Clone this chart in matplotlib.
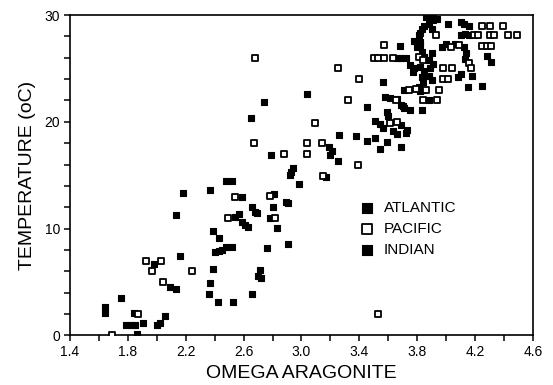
import matplotlib
matplotlib.use("Agg")
import matplotlib.pyplot as plt
from matplotlib.ticker import MultipleLocator

plt.rcParams['font.family'] = ['Liberation Sans', 'DejaVu Sans']

# ---- data (omega aragonite, temperature in oC) ----
atlantic_omega = [1.64, 1.64, 1.75, 1.79, 1.82, 1.85, 1.84, 1.86, 1.905, 1.98, 2.00, 2.02, 2.06,
                  2.09, 2.13, 2.13, 2.16, 2.18, 2.37, 2.39, 2.43, 2.40, 2.43, 2.45, 2.48, 2.52,
                  2.39, 2.37, 2.36, 2.42, 2.53, 2.66, 2.54, 2.57, 2.59, 2.61, 2.63, 2.66, 2.68,
                  2.69, 2.48, 2.52, 2.59, 2.76, 2.71, 2.70, 2.72, 2.81, 2.80, 2.89, 2.91, 2.78,
                  2.83, 2.91, 2.93, 2.92, 2.98, 2.94, 2.79, 3.04, 2.74, 2.65, 3.19, 3.21, 3.20,
                  3.25, 3.17, 3.26, 3.38, 3.45, 3.51, 3.54, 3.59, 3.69]
atlantic_temp = [2.65, 2.1, 3.5, 1.0, 1.0, 1.0, 2.1, 0.15, 1.2, 6.7, 1.0, 1.2, 1.8,
                 4.55, 4.35, 11.3, 7.4, 13.35, 13.6, 9.8, 9.1, 7.8, 7.9, 8.0, 8.25, 8.3,
                 6.2, 4.9, 3.85, 3.15, 3.15, 3.85, 11.1, 11.4, 10.6, 10.3, 10.15, 12.0, 11.6,
                 11.45, 14.5, 14.5, 13.0, 8.2, 6.1, 5.6, 5.4, 13.2, 12.0, 12.5, 12.4, 11.0,
                 10.05, 8.55, 15.3, 15.0, 14.2, 15.7, 16.9, 22.6, 21.9, 20.35, 17.6, 17.3, 16.9,
                 16.3, 14.8, 18.8, 18.7, 18.2, 18.5, 17.5, 18.1, 17.6]

indian_omega = [3.45, 3.58, 3.59, 3.60, 3.51, 3.54, 3.56, 3.63, 3.66, 3.69, 3.72, 3.73,
                3.66, 3.69, 3.71, 3.75, 3.56, 3.68, 3.66, 3.69, 3.72, 3.75, 3.78, 3.82, 3.82,
                3.83, 3.86, 3.89, 3.91, 3.94, 3.80, 3.82, 3.81, 3.78, 3.85, 3.88, 3.90, 3.91,
                4.01, 4.10, 3.97, 4.00, 4.06, 3.83, 3.85, 3.88, 3.91, 3.90, 3.77, 3.82, 3.85,
                3.89, 3.83, 3.84, 3.88, 3.90, 3.81, 3.82, 3.71, 3.83, 4.08, 3.61, 3.70, 3.88,
                3.83, 4.12, 4.16, 4.10, 4.13, 4.16, 4.12, 4.14, 4.13, 4.28, 4.31, 4.10, 4.18,
                4.15, 4.25]
indian_temp = [21.4, 22.3, 20.9, 20.5, 20.1, 19.8, 19.4, 19.1, 18.9, 19.7, 18.95, 19.2,
               22.1, 21.6, 21.3, 21.1, 23.7, 27.1, 26.0, 26.0, 26.0, 25.3, 25.0, 27.2, 28.3,
               28.7, 29.8, 30.0, 29.5, 29.6, 27.0, 27.5, 28.1, 27.6, 29.0, 29.2, 28.7, 29.95,
               29.2, 29.3, 27.0, 27.3, 27.3, 26.5, 26.1, 25.75, 25.4, 26.4, 24.65, 25.1, 24.8,
               25.0, 24.2, 23.7, 24.3, 23.9, 23.25, 22.9, 23.0, 23.0, 24.2, 22.2, 21.45, 22.0,
               21.1, 29.2, 29.0, 28.1, 28.2, 28.1, 27.0, 26.4, 25.9, 26.2, 25.6, 24.5, 24.3,
               23.25, 23.4]

pacific_omega = [1.69, 1.87, 1.925, 1.97, 2.03, 2.04, 2.24, 2.49, 2.54, 2.78, 2.82, 2.68,
                 2.67, 3.04, 2.88, 3.04, 3.32, 3.09, 3.14, 3.39, 3.15, 3.25, 3.40, 3.53,
                 3.61, 3.66, 3.74, 3.79, 3.86, 3.95, 3.98, 4.01, 3.98, 4.04, 3.65, 3.84, 3.94,
                 3.57, 3.50, 3.53, 3.57, 3.63, 3.81, 3.93, 4.03, 4.09, 3.84, 4.25, 4.30, 4.39,
                 4.19, 4.22, 4.30, 4.33, 4.43, 4.49, 4.25, 4.28, 4.31, 4.16, 4.17]
pacific_temp = [0.0, 2.0, 7.0, 6.0, 7.0, 5.0, 6.0, 11.0, 13.0, 13.1, 11.0, 26.0,
                18.0, 18.0, 17.0, 17.0, 22.0, 19.9, 18.0, 16.0, 14.9, 25.0, 24.0, 2.0,
                19.9, 20.0, 23.0, 23.1, 23.0, 23.0, 24.0, 24.0, 25.0, 25.0, 22.0, 22.0, 22.0,
                27.2, 26.0, 26.0, 26.0, 26.0, 26.1, 28.1, 27.0, 27.2, 25.8, 29.0, 29.0, 29.0,
                28.1, 28.1, 28.1, 28.1, 28.1, 28.1, 27.1, 27.1, 27.1, 25.5, 25.0]

x_ticks = [1.4, 1.8, 2.2, 2.6, 3.0, 3.4, 3.8, 4.2, 4.6]
y_ticks = [0, 10, 20, 30]

# ---- figure ----
fig = plt.figure(figsize=(5.53, 3.85), dpi=100)
ax = fig.add_axes([0.1266, 0.1286, 0.8372, 0.8324])

ms = 25
ax.scatter(atlantic_omega, atlantic_temp, marker='s', s=ms, facecolor='black',
           edgecolor='black', linewidths=0.8, label='ATLANTIC', zorder=3)
ax.scatter(pacific_omega, pacific_temp, marker='s', s=ms, facecolor='white',
           edgecolor='black', linewidths=1.3, label='PACIFIC', zorder=4)
ax.scatter(indian_omega, indian_temp, marker='s', s=ms, facecolor='black',
           edgecolor='black', linewidths=0.8, label='INDIAN', zorder=3)

ax.set_xlim(1.4, 4.6)
ax.set_ylim(0, 30)
ax.set_xticks(x_ticks)
ax.set_xticklabels([f"{v:.1f}" for v in x_ticks])
ax.set_yticks(y_ticks)
ax.xaxis.set_minor_locator(MultipleLocator(0.2))
ax.yaxis.set_minor_locator(MultipleLocator(2))
ax.tick_params(which='both', direction='out', length=4, width=1.1, labelsize=10, pad=3)

for sp in ax.spines.values():
    sp.set_linewidth(1.2)

ax.set_xlabel('OMEGA ARAGONITE', fontsize=14, labelpad=4)
ax.set_ylabel('TEMPERATURE (oC)', fontsize=14, labelpad=6)

leg = ax.legend(loc='upper left', bbox_to_anchor=(0.625, 0.42), frameon=False,
                fontsize=11, markerscale=1.4, handlelength=1.0, handletextpad=0.6,
                labelspacing=0.45, borderpad=0, borderaxespad=0)

fig.savefig('out.png', dpi=100)
